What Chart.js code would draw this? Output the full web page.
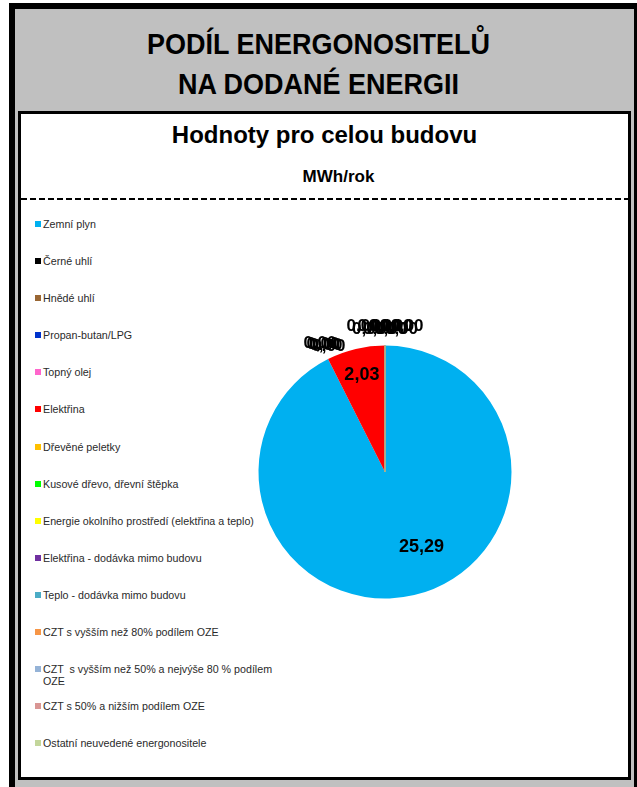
<!DOCTYPE html>
<html>
<head>
<meta charset="utf-8">
<script src="https://cdn.jsdelivr.net/npm/chart.js@4/dist/chart.umd.min.js"></script>
<style>
    html, body { margin: 0; padding: 0; background: #fff; overflow: hidden; }
    body { width: 637px; height: 787px; position: relative; font-family: "Liberation Sans", Arial, sans-serif; }
    #outer {
        position: absolute; left: 9px; top: 3px; width: 619px; height: 800px;
        border-left: 6px solid #000; border-top: 6px solid #000; border-right: 3px solid #000;
        background: #c0c0c0;
    }
    #inner {
        position: absolute; left: 18px; top: 111px; width: 607px; height: 663px;
        border: 3px solid #000; background: #fff;
    }
    .head { position: absolute; left: 0; width: 637px; text-align: center; font-weight: bold; color: #000; }
    #dash {
        position: absolute; left: 21px; top: 198px; width: 607px; height: 2px;
        background: repeating-linear-gradient(to right, #000 0 6px, transparent 6px 9px);
    }
    #legend { position: absolute; left: 35px; top: 218px; width: 260px; }
    .item { display: flex; align-items: flex-start; height: 37.1px; font-size: 10.7px; line-height: 12px; color: #2a2a2a; white-space: pre-wrap; }
    .item .txt { width: 240px; }
    .box { width: 6px; height: 6px; margin-top: 3px; margin-right: 2px; flex: none; }
    #chart { position: absolute; left: 21px; top: 201px; }
</style>
</head>
<body>
<div id="outer"></div>
<div class="head" style="top:28px; font-size:27px; line-height:37px; transform:scaleY(1.08);">PODÍL ENERGONOSITELŮ<br>NA DODANÉ ENERGII</div>
<div id="inner"></div>
<div class="head" style="top:120px; left:6px; font-size:24px; line-height:30px;">Hodnoty pro celou budovu</div>
<div class="head" style="top:166px; left:20px; font-size:17px; line-height:21px;">MWh/rok</div>
<div id="dash"></div>
<div id="legend"></div>
<canvas id="chart" width="607" height="576"></canvas>
<script>
// Energy carriers (legend order = slice order)
const carriers = [
    'Zemní plyn',
    'Černé uhlí',
    'Hnědé uhlí',
    'Propan-butan/LPG',
    'Topný olej',
    'Elektřina',
    'Dřevěné peletky',
    'Kusové dřevo, dřevní štěpka',
    'Energie okolního prostředí (elektřina a teplo)',
    'Elektřina - dodávka mimo budovu',
    'Teplo - dodávka mimo budovu',
    'CZT s vyšším než 80% podílem OZE',
    'CZT  s vyšším než 50% a nejvýše 80 % podílem OZE',
    'CZT s 50% a nižším podílem OZE',
    'Ostatní neuvedené energonositele'
];

// MWh/rok
const values = [25.29, 0, 0, 0, 0, 2.03, 0, 0, 0, 0, 0, 0, 0, 0, 0];

const colors = [
    '#00b0f0', '#000000', '#996633', '#0033cc', '#ff66cc',
    '#ff0000', '#ffc000', '#00ff00', '#ffff00', '#7030a0',
    '#4bacc6', '#f79646', '#95b3d7', '#d99694', '#c3d69b'
];

// HTML legend
const legendDiv = document.getElementById('legend');
carriers.forEach((name, i) => {
    const item = document.createElement('div');
    item.className = 'item';
    item.innerHTML = '<span class="box" style="background:' + colors[i] + '"></span><span class="txt">' + name + '</span>';
    legendDiv.appendChild(item);
});

function fmt(v) {
    return v.toFixed(2).replace('.', ',');
}

// value labels, Excel style: inside for real slices, outside end for zero slices
const pieLabels = {
    id: 'pieLabels',
    afterDatasetsDraw(chart) {
        const ctx = chart.ctx;
        const meta = chart.getDatasetMeta(0);
        const data = chart.data.datasets[0].data;
        const colorsDs = chart.data.datasets[0].backgroundColor;
        let lastNonZero = 0;
        data.forEach((v, i) => { if (v > 0) lastNonZero = i; });

        ctx.save();
        // zero slices drawn after the last real slice leave a thin edge line
        meta.data.forEach((arc, i) => {
            if (data[i] !== 0 || i < lastNonZero) return;
            const p = arc.getProps(['x', 'y', 'startAngle', 'outerRadius'], true);
            ctx.strokeStyle = colorsDs[i];
            ctx.globalAlpha = 0.45;
            ctx.lineWidth = 1;
            ctx.beginPath();
            ctx.moveTo(p.x, p.y);
            ctx.lineTo(p.x + Math.cos(p.startAngle) * p.outerRadius, p.y + Math.sin(p.startAngle) * p.outerRadius);
            ctx.stroke();
        });
        ctx.globalAlpha = 1;

        ctx.fillStyle = '#000';
        ctx.textAlign = 'center';
        ctx.textBaseline = 'middle';
        const groups = {};
        meta.data.forEach((arc, i) => {
            const p = arc.getProps(['x', 'y', 'startAngle', 'endAngle', 'outerRadius'], true);
            const v = data[i];
            if (v > 0) {
                const frac = i === 0 ? 0.66 : 0.79;
                const shift = i === 0 ? -12.5 * Math.PI / 180 : 0;
                const a = (p.startAngle + p.endAngle) / 2 + shift;
                ctx.font = 'bold 18px "Liberation Sans", Arial, sans-serif';
                ctx.fillText(fmt(v), p.x + Math.cos(a) * p.outerRadius * frac, p.y + Math.sin(a) * p.outerRadius * frac);
            } else {
                const key = p.startAngle.toFixed(3);
                groups[key] = groups[key] || [];
                groups[key].push({ p: p, v: v });
            }
        });
        ctx.font = 'bold 17px "Liberation Sans", Arial, sans-serif';
        Object.values(groups).forEach(g => {
            const a = g[0].p.startAngle;
            const atTop = Math.abs(Math.cos(a)) < 0.05;
            g.forEach((o, k) => {
                const r = o.p.outerRadius + 18;
                // overlapping labels get nudged sideways, like the original
                const dx = atTop ? (k - (g.length - 1) / 2) * 5.5 : k * 3;
                const dy = atTop ? ((k % 2) ? 2 : -1) : k;
                ctx.fillText(fmt(o.v), o.p.x + Math.cos(a) * r + dx, o.p.y + Math.sin(a) * r + dy);
            });
        });
        ctx.restore();
    }
};

const ctx = document.getElementById('chart').getContext('2d');
const chart = new Chart(ctx, {
    type: 'pie',
    data: {
        labels: carriers,
        datasets: [{
            data: values,
            backgroundColor: colors,
            borderWidth: 0,
            hoverOffset: 0
        }]
    },
    options: {
        responsive: false,
        devicePixelRatio: 1,
        animation: false,
        events: [],
        layout: {
            padding: { left: 237.5, right: 116.5, top: 144.5, bottom: 178.5 }
        },
        plugins: {
            legend: { display: false },
            tooltip: { enabled: false }
        }
    },
    plugins: [pieLabels]
});
</script>
</body>
</html>
